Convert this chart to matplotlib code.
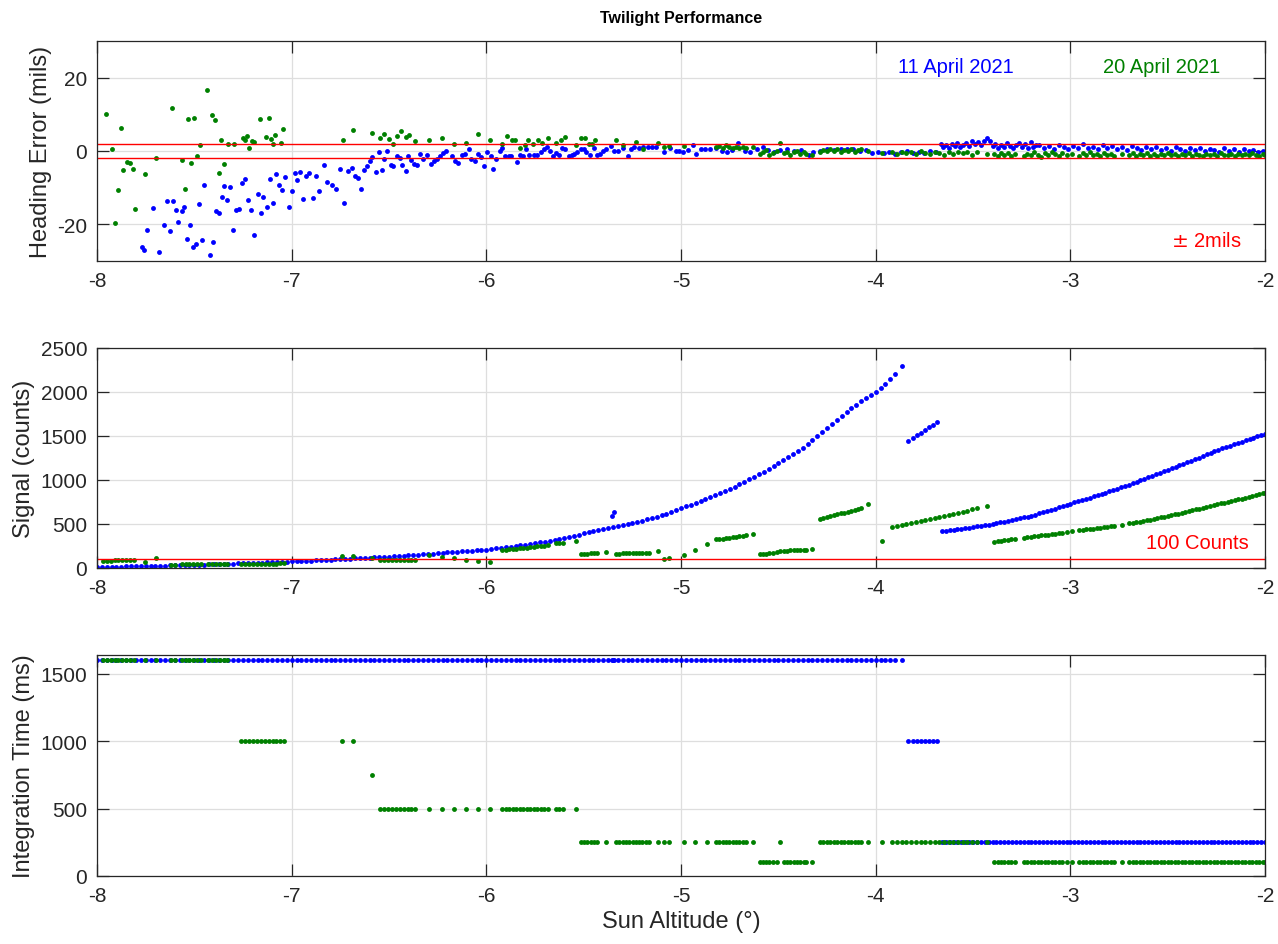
import matplotlib.pyplot as plt

plt.rcParams['font.family'] = ['Liberation Sans', 'DejaVu Sans']
plt.rcParams['axes.unicode_minus'] = False

# ---------------- 11 April 2021 (blue) ----------------
# heading error samples
blue_hdg_x = [
    -7.771, -7.759, -7.742, -7.712, -7.683, -7.654, -7.640, -7.625, -7.609, -7.596,
    -7.582, -7.565, -7.551, -7.538, -7.522, -7.509, -7.491, -7.478, -7.462, -7.449,
    -7.418, -7.403, -7.389, -7.374, -7.360, -7.346, -7.331, -7.317, -7.300, -7.288,
    -7.271, -7.254, -7.242, -7.224, -7.208, -7.193, -7.174, -7.159, -7.145, -7.128,
    -7.113, -7.094, -7.079, -7.065, -7.050, -7.032, -7.015, -7.000, -6.985, -6.973,
    -6.957, -6.942, -6.925, -6.910, -6.893, -6.875, -6.860, -6.834, -6.817, -6.792,
    -6.771, -6.751, -6.729, -6.713, -6.688, -6.674, -6.657, -6.645, -6.628, -6.613,
    -6.599, -6.585, -6.568, -6.553, -6.538, -6.524, -6.509, -6.490, -6.480, -6.461,
    -6.446, -6.432, -6.415, -6.401, -6.387, -6.372, -6.355, -6.341, -6.324, -6.307,
    -6.285, -6.270, -6.254, -6.239, -6.222, -6.206, -6.179, -6.159, -6.147, -6.125,
    -6.111, -6.090, -6.077, -6.056, -6.043, -6.025, -6.014, -5.995, -5.978, -5.967,
    -5.949, -5.931, -5.918, -5.904, -5.883, -5.873, -5.842, -5.825, -5.810, -5.796,
    -5.780, -5.753, -5.738, -5.720, -5.703, -5.688, -5.671, -5.657, -5.640, -5.626,
    -5.609, -5.595, -5.578, -5.561, -5.549, -5.532, -5.515, -5.501, -5.489, -5.468,
    -5.449, -5.434, -5.417, -5.400, -5.386, -5.358, -5.345, -5.326, -5.300, -5.274,
    -5.257, -5.240, -5.214, -5.197, -5.171, -5.149, -5.127, -5.086, -5.057, -5.026,
    -5.009, -4.992, -4.965, -4.940, -4.925, -4.900, -4.875, -4.850, -4.820, -4.790,
    -4.765, -4.740, -4.705, -4.672, -4.645, -4.610, -4.580, -4.555, -4.520, -4.490,
    -4.455, -4.420, -4.385, -4.345, -4.320, -4.285, -4.250, -4.215, -4.180, -4.150,
    -4.115, -4.080, -4.050, -4.020, -3.990, -3.960, -3.930, -3.900, -3.870, -3.840,
    -3.810, -3.780, -3.750, -3.720, -3.690, -3.665, -3.655, -3.640, -3.625, -3.610,
    -3.595, -3.580, -3.565, -3.550, -3.535, -3.520, -3.505, -3.490, -3.475, -3.460,
    -3.445, -3.430, -3.415, -3.400, -3.385, -3.370, -3.355, -3.340, -3.325, -3.310,
    -3.295, -3.280, -3.265, -3.250, -3.235, -3.220, -3.205, -3.190, -3.175, -3.160,
    -3.135, -3.110, -3.085, -3.060, -3.035, -3.010, -2.985, -2.960, -2.935, -2.910,
    -2.885, -2.860, -2.835, -2.810, -2.785, -2.760, -2.735, -2.710, -2.685, -2.660,
    -2.635, -2.610, -2.585, -2.560, -2.535, -2.510, -2.485, -2.460, -2.435, -2.410,
    -2.385, -2.360, -2.335, -2.310, -2.285, -2.260, -2.235, -2.210, -2.185, -2.160,
    -2.135, -2.110, -2.085, -2.060, -2.035, -2.010,
]
blue_hdg = [
    -26.3, -26.9, -21.6, -15.5, -27.5, -20.2, -13.6, -21.7, -13.6, -16.2,
    -19.4, -16.4, -15.2, -23.9, -20.1, -26.1, -25.4, -14.6, -24.4, -9.3,
    -28.5, -24.8, -16.4, -17.0, -12.5, -9.5, -13.5, -9.9, -21.6, -16.0,
    -15.9, -8.7, -7.6, -13.4, -16.2, -23.0, -11.8, -17.0, -12.6, -15.2,
    -7.7, -14.2, -6.4, -9.3, -10.6, -7.1, -15.2, -11.0, -5.9, -8.0,
    -5.7, -13.0, -6.7, -6.0, -12.9, -6.9, -10.8, -3.9, -8.5, -9.3,
    -10.4, -4.8, -14.2, -5.5, -4.6, -6.9, -7.4, -10.4, -5.2, -4.0,
    -2.7, -1.7, -5.8, -0.3, -5.3, -2.1, 0.0, -3.7, -4.0, -1.3,
    -1.9, -3.9, -5.4, -1.4, -2.6, -3.5, -3.7, -0.7, -2.1, -1.1,
    -3.6, -2.7, -2.2, -1.4, -0.5, 0.1, -1.5, -2.8, -3.4, -1.2,
    -0.9, 0.5, -2.1, -2.8, -0.7, -1.6, -4.1, -0.3, -1.3, -5.0,
    -2.2, 0.0, 0.8, -1.3, -1.3, -1.3, -3.0, -1.0, -1.4, 0.4,
    -1.0, -1.0, -1.2, -0.3, 0.4, 1.0, -0.1, -1.5, -0.5, -1.2,
    0.8, 0.4, -1.5, -1.2, -0.7, -0.4, 0.4, 0.6, -0.3, -1.2,
    0.9, -1.2, -0.7, -0.1, 0.6, 1.3, 0.1, -0.1, 0.8, -1.3,
    0.6, 1.1, 0.8, 1.0, 1.2, 1.0, 1.0, -0.4, 0.8, -0.1,
    -0.1, -0.4, 0.3, 1.5, -0.8, 0.6, 0.6, 0.6, 0.8, -0.1,
    -0.3, 0.2, 2.1, -0.1, -0.4, 0.6, 1.0, 0.2, -0.3, 0.2,
    0.6, -0.1, 0.2, -1.0, -0.3, 0.0, 0.4, 0.2, 0.6, 0.4,
    0.6, -0.1, 0.2, -0.5, -0.3, -0.6, -0.2, -0.7, -0.4, -0.1,
    -0.6, -0.3, -0.5, 0.1, -0.4, 2.0, 1.2, 1.6, 0.9, 1.8,
    1.3, 2.2, 1.0, 1.7, 2.3, 1.4, 2.6, 1.9, 2.4, 1.6,
    2.8, 3.5, 2.6, 1.4, 2.0, 0.9, 1.5, 1.1, 2.1, 1.4,
    0.8, 1.6, 2.2, 1.2, 1.9, 0.9, 2.5, 1.1, 1.5, 1.6,
    0.8, 1.3, 0.6, 1.7, 1.0, 0.5, 1.4, 0.9, 1.8, 0.7,
    1.2, 0.4, 1.5, 0.9, 1.3, 0.5, 1.1, 0.3, 1.4, 0.8,
    0.2, 1.0, 0.6, 1.2, 0.3, 0.8, 0.1, 1.0, 0.5, -0.1,
    0.7, 0.2, 0.9, 0.0, 0.6, 0.3, -0.2, 0.7, 0.1, 0.4,
    -0.3, 0.5, 0.0, 0.3, -0.4, 0.1,
]

# signal samples, first gain block (1600 ms)
blue_a_x = [
    -8.000, -7.975, -7.950, -7.925, -7.900, -7.875, -7.850, -7.825, -7.800, -7.775,
    -7.750, -7.725, -7.700, -7.675, -7.650, -7.625, -7.600, -7.575, -7.550, -7.525,
    -7.500, -7.475, -7.450, -7.425, -7.400, -7.375, -7.350, -7.325, -7.300, -7.275,
    -7.250, -7.225, -7.200, -7.175, -7.150, -7.125, -7.100, -7.075, -7.050, -7.025,
    -7.000, -6.975, -6.950, -6.925, -6.900, -6.875, -6.850, -6.825, -6.800, -6.775,
    -6.750, -6.725, -6.700, -6.675, -6.650, -6.625, -6.600, -6.575, -6.550, -6.525,
    -6.500, -6.475, -6.450, -6.425, -6.400, -6.375, -6.350, -6.325, -6.300, -6.275,
    -6.250, -6.225, -6.200, -6.175, -6.150, -6.125, -6.100, -6.075, -6.050, -6.025,
    -6.000, -5.975, -5.950, -5.925, -5.900, -5.875, -5.850, -5.825, -5.800, -5.775,
    -5.750, -5.725, -5.700, -5.675, -5.650, -5.625, -5.600, -5.575, -5.550, -5.525,
    -5.500, -5.475, -5.450, -5.425, -5.400, -5.375, -5.350, -5.325, -5.300, -5.275,
    -5.250, -5.225, -5.200, -5.175, -5.150, -5.125, -5.100, -5.075, -5.050, -5.025,
    -5.000, -4.975, -4.950, -4.925, -4.900, -4.875, -4.850, -4.825, -4.800, -4.775,
    -4.750, -4.725, -4.700, -4.675, -4.650, -4.625, -4.600, -4.575, -4.550, -4.525,
    -4.500, -4.475, -4.450, -4.425, -4.400, -4.375, -4.350, -4.325, -4.300, -4.275,
    -4.250, -4.225, -4.200, -4.175, -4.150, -4.125, -4.100, -4.075, -4.050, -4.025,
    -4.000, -3.975, -3.950, -3.925, -3.900, -3.863, -5.357, -5.343,
]
blue_a_sig = [
    12, 13, 13, 14, 15, 16, 17, 18, 19, 20,
    22, 23, 24, 26, 27, 29, 30, 32, 33, 34,
    35, 37, 38, 40, 42, 44, 45, 47, 49, 51,
    52, 54, 57, 59, 61, 63, 66, 68, 70, 73,
    75, 77, 80, 82, 85, 87, 90, 92, 95, 97,
    100, 103, 106, 109, 112, 115, 118, 121, 124, 127,
    130, 133, 137, 141, 145, 148, 152, 156, 160, 164,
    168, 172, 176, 180, 185, 189, 193, 197, 201, 205,
    210, 216, 222, 228, 235, 242, 249, 257, 265, 273,
    282, 291, 300, 310, 320, 331, 342, 354, 366, 380,
    392, 404, 416, 428, 440, 452, 464, 476, 488, 500,
    512, 525, 538, 552, 567, 583, 600, 618, 638, 658,
    680, 700, 720, 740, 761, 783, 805, 828, 851, 875,
    900, 925, 952, 979, 1006, 1035, 1064, 1095, 1126, 1158,
    1190, 1224, 1258, 1294, 1330, 1368, 1406, 1450, 1495, 1545,
    1594, 1638, 1682, 1728, 1775, 1815, 1855, 1893, 1930, 1965,
    2000, 2045, 2095, 2148, 2200, 2290, 587, 635,
]

# second block (1000 ms)
blue_b_x = [-3.832, -3.811, -3.790, -3.769, -3.748, -3.727, -3.706, -3.686]
blue_b_sig = [1448, 1478, 1508, 1538, 1568, 1598, 1628, 1662]

# third block (250 ms)
blue_c_x = [
    -3.66, -3.64, -3.62, -3.60, -3.58, -3.56, -3.54, -3.52, -3.50, -3.48,
    -3.46, -3.44, -3.42, -3.40, -3.38, -3.36, -3.34, -3.32, -3.30, -3.28,
    -3.26, -3.24, -3.22, -3.20, -3.18, -3.16, -3.14, -3.12, -3.10, -3.08,
    -3.06, -3.04, -3.02, -3.00, -2.98, -2.96, -2.94, -2.92, -2.90, -2.88,
    -2.86, -2.84, -2.82, -2.80, -2.78, -2.76, -2.74, -2.72, -2.70, -2.68,
    -2.66, -2.64, -2.62, -2.60, -2.58, -2.56, -2.54, -2.52, -2.50, -2.48,
    -2.46, -2.44, -2.42, -2.40, -2.38, -2.36, -2.34, -2.32, -2.30, -2.28,
    -2.26, -2.24, -2.22, -2.20, -2.18, -2.16, -2.14, -2.12, -2.10, -2.08,
    -2.06, -2.04, -2.02, -2.00,
]
blue_c_sig = [
    416, 421, 427, 433, 439, 445, 452, 458, 465, 472,
    479, 487, 494, 502, 510, 518, 527, 536, 545, 554,
    564, 574, 584, 595, 607, 620, 633, 646, 660, 674,
    688, 702, 716, 731, 745, 759, 773, 786, 800, 814,
    828, 843, 857, 872, 887, 902, 917, 932, 947, 963,
    980, 996, 1013, 1030, 1047, 1064, 1081, 1098, 1115, 1132,
    1149, 1166, 1183, 1200, 1218, 1236, 1254, 1272, 1290, 1307,
    1324, 1341, 1358, 1375, 1390, 1405, 1420, 1435, 1450, 1465,
    1480, 1495, 1510, 1525,
]
blue_a_ms = [1600] * len(blue_a_x)
blue_b_ms = [1000] * len(blue_b_x)
blue_c_ms = [250] * len(blue_c_x)

# ---------------- 20 April 2021 (green) ----------------
green_hdg_x = [
    -7.956, -7.925, -7.910, -7.894, -7.879, -7.865, -7.848, -7.831, -7.817, -7.804,
    -7.753, -7.695, -7.614, -7.561, -7.546, -7.534, -7.515, -7.502, -7.485, -7.473,
    -7.435, -7.408, -7.392, -7.375, -7.362, -7.346, -7.329, -7.295, -7.251, -7.241,
    -7.227, -7.217, -7.203, -7.195, -7.162, -7.130, -7.119, -7.106, -7.097, -7.084,
    -7.055, -7.044, -6.737, -6.686, -6.587, -6.544, -6.524, -6.502, -6.480, -6.457,
    -6.438, -6.414, -6.395, -6.367, -6.295, -6.230, -6.166, -6.106, -6.043, -5.980,
    -5.918, -5.894, -5.870, -5.852, -5.825, -5.803, -5.784, -5.760, -5.736, -5.715,
    -5.684, -5.643, -5.616, -5.595, -5.540, -5.513, -5.492, -5.475, -5.458, -5.441,
    -5.334, -5.300, -5.232, -5.197, -5.117, -5.086, -5.060, -4.983, -4.820, -4.803,
    -4.786, -4.769, -4.752, -4.735, -4.718, -4.701, -4.684, -4.667, -4.630, -4.597,
    -4.580, -4.563, -4.546, -4.528, -4.505, -4.490, -4.473, -4.456, -4.439, -4.422,
    -4.405, -4.388, -4.371, -4.357, -4.328, -4.288, -4.270, -4.252, -4.234, -4.216,
    -4.198, -4.180, -4.162, -4.144, -4.126, -4.108, -4.090, -4.074, -4.040, -3.969,
    -3.914, -3.890, -3.866, -3.842, -3.818, -3.794, -3.770, -3.746, -3.722, -3.698,
    -3.674, -3.650, -3.626, -3.602, -3.578, -3.554, -3.530, -3.506, -3.482, -3.430,
    -3.391, -3.374, -3.357, -3.340, -3.322, -3.305, -3.285, -3.240, -3.222, -3.204,
    -3.186, -3.168, -3.150, -3.132, -3.114, -3.096, -3.078, -3.060, -3.042, -3.020,
    -2.990, -2.955, -2.937, -2.919, -2.901, -2.883, -2.865, -2.847, -2.829, -2.811,
    -2.793, -2.775, -2.736, -2.697, -2.679, -2.661, -2.643, -2.625, -2.607, -2.589,
    -2.571, -2.553, -2.535, -2.517, -2.499, -2.481, -2.463, -2.445, -2.427, -2.409,
    -2.391, -2.373, -2.355, -2.337, -2.319, -2.301, -2.283, -2.265, -2.247, -2.229,
    -2.211, -2.193, -2.175, -2.157, -2.139, -2.121, -2.103, -2.085, -2.067, -2.049,
    -2.031, -2.013, -2.000,
]
green_hdg = [
    10.2, 0.6, -19.6, -10.6, 6.2, -5.1, -3.0, -3.2, -5.0, -15.7,
    -6.2, -1.9, 11.7, -2.6, -10.3, 8.7, -3.2, 9.1, -1.3, 1.5,
    16.6, 9.7, 8.4, -6.1, 2.9, -3.6, 2.0, 2.0, 3.5, 3.1,
    4.2, 0.9, 2.7, 2.4, 8.7, 3.9, 9.0, 3.2, 1.9, 4.4,
    2.2, 6.1, 3.1, 5.6, 4.9, 3.5, 4.7, 3.3, 1.9, 4.2,
    5.4, 3.9, 4.3, 2.6, 2.9, 3.5, 2.0, 2.2, 4.5, 2.9,
    2.0, 4.1, 3.1, 3.0, 0.7, 1.5, 3.0, 1.9, 3.1, 2.2,
    3.4, 2.3, 3.0, 3.7, 1.5, 3.5, 3.5, 1.9, 2.0, 3.1,
    3.0, 1.5, 2.5, 0.4, 2.3, 1.1, 1.3, 1.3, 1.0, 1.3,
    0.8, 1.5, 1.1, 0.9, 1.2, 0.7, 1.0, 0.8, 1.1, -0.8,
    -0.3, 0.2, -1.2, -0.5, 0.1, 2.2, -0.6, -0.2, -1.0, -0.4,
    0.1, -0.7, -0.3, -0.9, -1.2, -0.2, 0.3, -0.1, 0.4, 0.0,
    0.5, -0.2, 0.3, 0.1, 0.4, -0.3, 0.2, 0.5, 0.1, -0.5,
    -0.3, -0.8, -0.2, -0.6, -0.4, -0.9, -0.1, -0.5, -0.7, -0.2,
    -0.6, -1.0, -0.3, -0.8, -0.2, -0.6, -0.4, -1.1, -0.3, -0.7,
    -0.9, -1.4, -0.5, -1.1, -0.6, -1.3, -0.8, -1.5, -0.7, -1.2,
    -0.4, -1.0, -1.6, -0.6, -1.1, -0.3, -0.9, -1.3, -0.5, -1.0,
    -0.7, -1.4, -0.6, -1.0, -0.4, -1.2, -0.8, -1.5, -0.5, -1.0,
    -0.7, -1.3, -0.9, -1.2, -0.6, -1.4, -0.8, -1.1, -0.5, -1.3,
    -0.9, -1.5, -0.7, -1.0, -0.6, -1.2, -0.8, -1.4, -0.9, -1.1,
    -0.5, -1.3, -0.8, -1.0, -1.4, -0.7, -1.1, -0.9, -1.3, -0.6,
    -1.2, -1.0, -0.8, -1.3, -0.7, -1.1, -0.9, -1.2, -0.6, -1.0,
    -1.3, -0.8, -1.1,
]

# signal / integration time samples
green_x = [
    -7.970, -7.950, -7.930, -7.910, -7.890, -7.870, -7.850, -7.830, -7.810,
    -7.754, -7.695,
    -7.620, -7.600, -7.565, -7.545, -7.525, -7.505, -7.485, -7.465,
    -7.430, -7.410, -7.390, -7.370, -7.350, -7.330,
    -7.260, -7.240, -7.220, -7.200, -7.180, -7.160, -7.135, -7.115, -7.095, -7.080, -7.060, -7.040,
    -6.739, -6.686,
    -6.589,
    -6.546, -6.525, -6.505, -6.485, -6.465, -6.445, -6.425, -6.405, -6.385, -6.365,
    -6.295, -6.230, -6.167, -6.104, -6.044, -5.980,
    -5.918, -5.900, -5.882, -5.864, -5.846, -5.828, -5.810, -5.792, -5.774, -5.756, -5.738, -5.720, -5.702, -5.684,
    -5.643, -5.625, -5.607, -5.540,
    -5.515, -5.498, -5.481, -5.464, -5.447, -5.430, -5.386,
    -5.334, -5.317, -5.300, -5.283, -5.266, -5.249, -5.232, -5.215, -5.198, -5.181, -5.165,
    -5.117, -5.086, -5.060, -4.983, -4.926, -4.866,
    -4.820, -4.803, -4.786, -4.769, -4.752, -4.735, -4.718, -4.701, -4.684, -4.667, -4.630,
    -4.597, -4.580, -4.563, -4.546, -4.528, -4.505,
    -4.490,
    -4.473, -4.456, -4.439, -4.422, -4.405, -4.388, -4.371, -4.357, -4.328,
    -4.288, -4.270, -4.252, -4.234, -4.216, -4.198, -4.180, -4.162, -4.144, -4.126, -4.108, -4.090, -4.074, -4.040,
    -3.969,
    -3.914, -3.890, -3.866, -3.842, -3.818, -3.794, -3.770, -3.746, -3.722, -3.698,
    -3.674, -3.650, -3.626, -3.602, -3.578, -3.554, -3.530, -3.506, -3.482, -3.430,
    -3.391, -3.374, -3.357, -3.340, -3.322, -3.305, -3.285,
    -3.240, -3.222, -3.204, -3.186, -3.168, -3.150, -3.132, -3.114, -3.096, -3.078, -3.060, -3.042, -3.020,
    -2.990,
    -2.955, -2.937, -2.919, -2.901, -2.883, -2.865, -2.847, -2.829, -2.811, -2.793, -2.775,
    -2.736,
    -2.697, -2.679, -2.661, -2.643, -2.625, -2.607, -2.589, -2.571, -2.553, -2.535,
    -2.517, -2.499, -2.481, -2.463, -2.445, -2.427, -2.409, -2.391, -2.373, -2.355,
    -2.337, -2.319, -2.301, -2.283, -2.265, -2.247, -2.229, -2.211, -2.193, -2.175,
    -2.157, -2.139, -2.121, -2.103, -2.085, -2.067, -2.049, -2.031, -2.013, -2.000,
]
green_sig = [
    84, 85, 85, 86, 86, 87, 87, 88, 88,
    64, 109,
    38, 39, 41, 42, 42, 43, 44, 44,
    45, 46, 46, 47, 48, 48,
    44, 45, 45, 46, 47, 47, 48, 49, 49, 50, 51, 52,
    132, 139,
    109,
    88, 89, 90, 90, 91, 92, 92, 93, 94, 95,
    147, 128, 109, 90, 79, 64,
    203, 207, 211, 215, 219, 223, 227, 231, 236, 240, 245, 250, 255, 262,
    280, 283, 286, 308,
    160, 162, 164, 166, 168, 170, 184,
    163, 164, 165, 166, 167, 168, 169, 170, 172, 173, 175,
    188, 98, 113, 150, 199, 271,
    325, 330, 335, 340, 345, 350, 356, 362, 367, 372, 387,
    160, 162, 164, 166, 168, 178,
    190,
    195, 197, 199, 201, 203, 205, 208, 210, 214,
    560, 570, 580, 590, 600, 610, 620, 630, 640, 650, 662, 673, 684, 722,
    308,
    466, 478, 489, 501, 513, 524, 536, 548, 560, 571,
    583, 595, 606, 618, 630, 641, 653, 665, 677, 710,
    300, 305, 310, 314, 319, 324, 329,
    342, 347, 354, 359, 364, 370, 375, 380, 386, 391, 397, 402, 409,
    418,
    428, 433, 438, 443, 448, 454, 459, 464, 470, 475, 481,
    494,
    508, 515, 521, 528, 535, 542, 550, 558, 566, 574,
    582, 590, 599, 608, 617, 626, 635, 645, 655, 665,
    675, 685, 695, 704, 714, 724, 734, 744, 753, 762,
    771, 780, 789, 798, 808, 818, 828, 838, 847, 854,
]
green_ms = ([1600] * 25 + [1000] * 14 + [750] + [500] * 34 + [250] * 35
            + [100] * 6 + [250] + [100] * 9 + [250] * 35 + [100] * 73)

x_ticks = [-8, -7, -6, -5, -4, -3, -2]
blue = '#0000ff'
green = '#008000'
ink = '#262626'


def style(ax, ylim, yticks):
    ax.set_xlim(-8, -2)
    ax.set_ylim(ylim)
    ax.set_xticks(x_ticks)
    ax.set_yticks(yticks)
    ax.grid(True, color='#dedede', linewidth=0.9)
    ax.set_axisbelow(True)
    ax.tick_params(direction='in', length=8.4, width=0.9, top=True, right=True,
                   labelsize=15, colors=ink, pad=7)
    for s in ax.spines.values():
        s.set_color(ink)
        s.set_linewidth(0.9)


dot = dict(linestyle='none', marker='o', markersize=3.5, markeredgewidth=0)

fig = plt.figure(figsize=(12.78, 9.45), dpi=100)
ax1 = fig.add_axes([0.0759, 0.7228, 0.914, 0.2328])
ax2 = fig.add_axes([0.0759, 0.3979, 0.914, 0.2328])
ax3 = fig.add_axes([0.0759, 0.0720, 0.914, 0.2339])

# heading error
ax1.plot(blue_hdg_x, blue_hdg, color=blue, **dot)
ax1.plot(green_hdg_x, green_hdg, color=green, **dot)
ax1.axhline(2, color='red', linewidth=1)
ax1.axhline(-2, color='red', linewidth=1)
style(ax1, (-30, 30), [-20, 0, 20])
ax1.set_ylabel('Heading Error (mils)', fontsize=17, color=ink)
ax1.set_title('Twilight Performance', fontsize=11.5, fontweight='bold', pad=14)
ax1.text(-3.59, 23, '11 April 2021', color=blue, fontsize=14.5, ha='center', va='center')
ax1.text(-2.53, 23, '20 April 2021', color=green, fontsize=14.5, ha='center', va='center')
ax1.text(-2.30, -24.4, '$\\pm$ 2mils', color='red', fontsize=14.5, ha='center', va='center')

# signal
ax2.plot(blue_a_x, blue_a_sig, color=blue, **dot)
ax2.plot(blue_b_x, blue_b_sig, color=blue, **dot)
ax2.plot(blue_c_x, blue_c_sig, color=blue, **dot)
ax2.plot(green_x, green_sig, color=green, **dot)
ax2.axhline(100, color='red', linewidth=1)
style(ax2, (0, 2500), [0, 500, 1000, 1500, 2000, 2500])
ax2.set_ylabel('Signal (counts)', fontsize=17, color=ink)
ax2.text(-2.35, 294, '100 Counts', color='red', fontsize=14.5, ha='center', va='center')

# integration time
ax3.plot(blue_a_x, blue_a_ms, color=blue, **dot)
ax3.plot(blue_b_x, blue_b_ms, color=blue, **dot)
ax3.plot(blue_c_x, blue_c_ms, color=blue, **dot)
ax3.plot(green_x, green_ms, color=green, **dot)
style(ax3, (0, 1640), [0, 500, 1000, 1500])
ax3.set_ylabel('Integration Time (ms)', fontsize=17, color=ink)
ax3.set_xlabel('Sun Altitude (°)', fontsize=17, color=ink)

fig.savefig('out.png', dpi=100)
